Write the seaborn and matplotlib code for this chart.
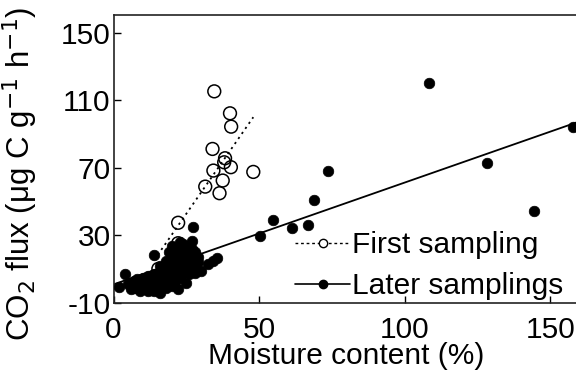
import matplotlib
matplotlib.use("Agg")
import matplotlib.pyplot as plt
from matplotlib.lines import Line2D
import pandas as pd
import seaborn as sns

# first sampling (open circles)
first_moist = [34.6, 40.0, 40.4, 34.0, 38.3, 38.0, 34.3, 40.3, 48.0, 37.5,
               31.5, 36.4, 22.2, 22.2, 15.4]
first_flux = [115.3, 102.3, 94.4, 81.2, 75.7, 73.3, 68.4, 70.4, 67.6, 62.5,
              58.9, 55.0, 37.5, 25.4, 10.2]

# later samplings (filled circles)
later_moist = [108.4, 157.7, 128.2, 144.5, 73.8, 68.9, 66.7, 61.2, 54.6, 50.3,
               27.4, 35.7, 34.3, 32.6, 14.0, 4.0, 2.0,
               6, 7, 8, 9, 9, 10, 10, 11, 11, 12, 12, 13, 13, 14, 14, 15, 15,
               16, 16, 17, 17, 18, 18, 19, 19, 20, 20, 21, 21, 22, 22, 22, 23,
               23, 24, 24, 25, 25, 26, 26, 27, 27, 28, 29, 30, 19, 20, 21, 18, 24,
               18, 19, 20, 22, 23, 25, 26, 28, 29, 24, 22, 27, 21, 25, 20, 23,
               26, 28, 17, 16, 5, 6, 7, 8, 12, 14, 16]
later_flux = [120.1, 94.0, 72.7, 44.3, 68.0, 51.2, 36.3, 34.5, 39.4, 29.5,
              34.9, 16.7, 15.1, 12.8, 18.5, 7.3, -0.7,
              2, -1, 4, 1, -3, 5, 0, 3, -2, 6, 1, -1, 4, 2, 7, 0, 5,
              3, -2, 8, 1, 5, -1, 3, 9, 6, 0, 11, 3, 8, -2, 14, 5,
              18, 10, 22, 13, 2, 20, 7, 16, 27, 12, 17, 9, 14, 17, 20, 12, 25,
              15, 20, 24, 23, 26, 24, 17, 20, 14, 16, 19, 22, 16, 9, 10, 12,
              11, 8, 10, 12, 1, -2, 3, -1, -3, -3, -4]

# fitted lines
fit_first_x = [14, 48]
fit_first_y = [15.5, 100]
fit_later_x = [0, 160]
fit_later_y = [1.0, 97.5]

first = pd.DataFrame({"moisture": first_moist, "flux": first_flux})
later = pd.DataFrame({"moisture": later_moist, "flux": later_flux})

FS = 21.5

sns.set_theme(style="ticks")
plt.rcParams.update({
    "font.family": ["Liberation Sans", "DejaVu Sans"],
    "font.size": FS,
    "axes.unicode_minus": False,
    "axes.linewidth": 1.2,
    "xtick.direction": "in",
    "ytick.direction": "in",
    "xtick.major.size": 5,
    "ytick.major.size": 5,
    "xtick.major.width": 1.0,
    "ytick.major.width": 1.0,
    "text.color": "black",
    "axes.labelcolor": "black",
    "xtick.color": "black",
    "ytick.color": "black",
    "axes.edgecolor": "#222",
})

fig = plt.figure(figsize=(5.76, 3.70), dpi=100)
ax = fig.add_axes([113.5 / 576, 67 / 370, 466 / 576, 288 / 370])

sns.lineplot(x=fit_first_x, y=fit_first_y, ax=ax, color="black",
             linewidth=1.3, linestyle=(0, (1.2, 2.2)), zorder=2)
sns.lineplot(x=fit_later_x, y=fit_later_y, ax=ax, color="black",
             linewidth=1.3, zorder=2)
sns.scatterplot(data=first, x="moisture", y="flux", ax=ax, s=85,
                facecolor="none", edgecolor="black", linewidth=1.1, zorder=3)
sns.scatterplot(data=later, x="moisture", y="flux", ax=ax, s=58,
                color="black", edgecolor="black", linewidth=0.5, zorder=4)

ax.set_xlim(0, 160)
ax.set_ylim(-10, 160.5)
ax.set_xticks([0, 50, 100, 150])
ax.set_yticks([-10, 30, 70, 110, 150])
ax.tick_params(axis="y", labelsize=FS, pad=2)
ax.tick_params(axis="x", labelsize=FS, pad=9)
ax.spines["right"].set_visible(False)
ax.set_xlabel("Moisture content (%)", fontsize=FS, labelpad=-1)
ax.set_ylabel(r"CO$_2$ flux ($\mathregular{\mu}$g C g$^{-1}$ h$^{-1}$)",
              fontsize=22.5)
ax.yaxis.set_label_coords(-0.158, 0.45)

handles = [
    Line2D([], [], color="black", linestyle=(0, (2, 2)), linewidth=1.0,
           marker="o", markersize=6, markerfacecolor="white",
           markeredgecolor="black"),
    Line2D([], [], color="black", linestyle="-", linewidth=1.2,
           marker="o", markersize=6, markerfacecolor="black"),
]
ax.legend(handles, ["First sampling", "Later samplings"], frameon=False,
          loc="lower left", bbox_to_anchor=(295 / 576, 70 / 370),
          bbox_transform=fig.transFigure, borderpad=0, borderaxespad=0,
          handlelength=1.85, handletextpad=0.05, labelspacing=0.42,
          fontsize=FS)

fig.savefig("out.png", dpi=100)
